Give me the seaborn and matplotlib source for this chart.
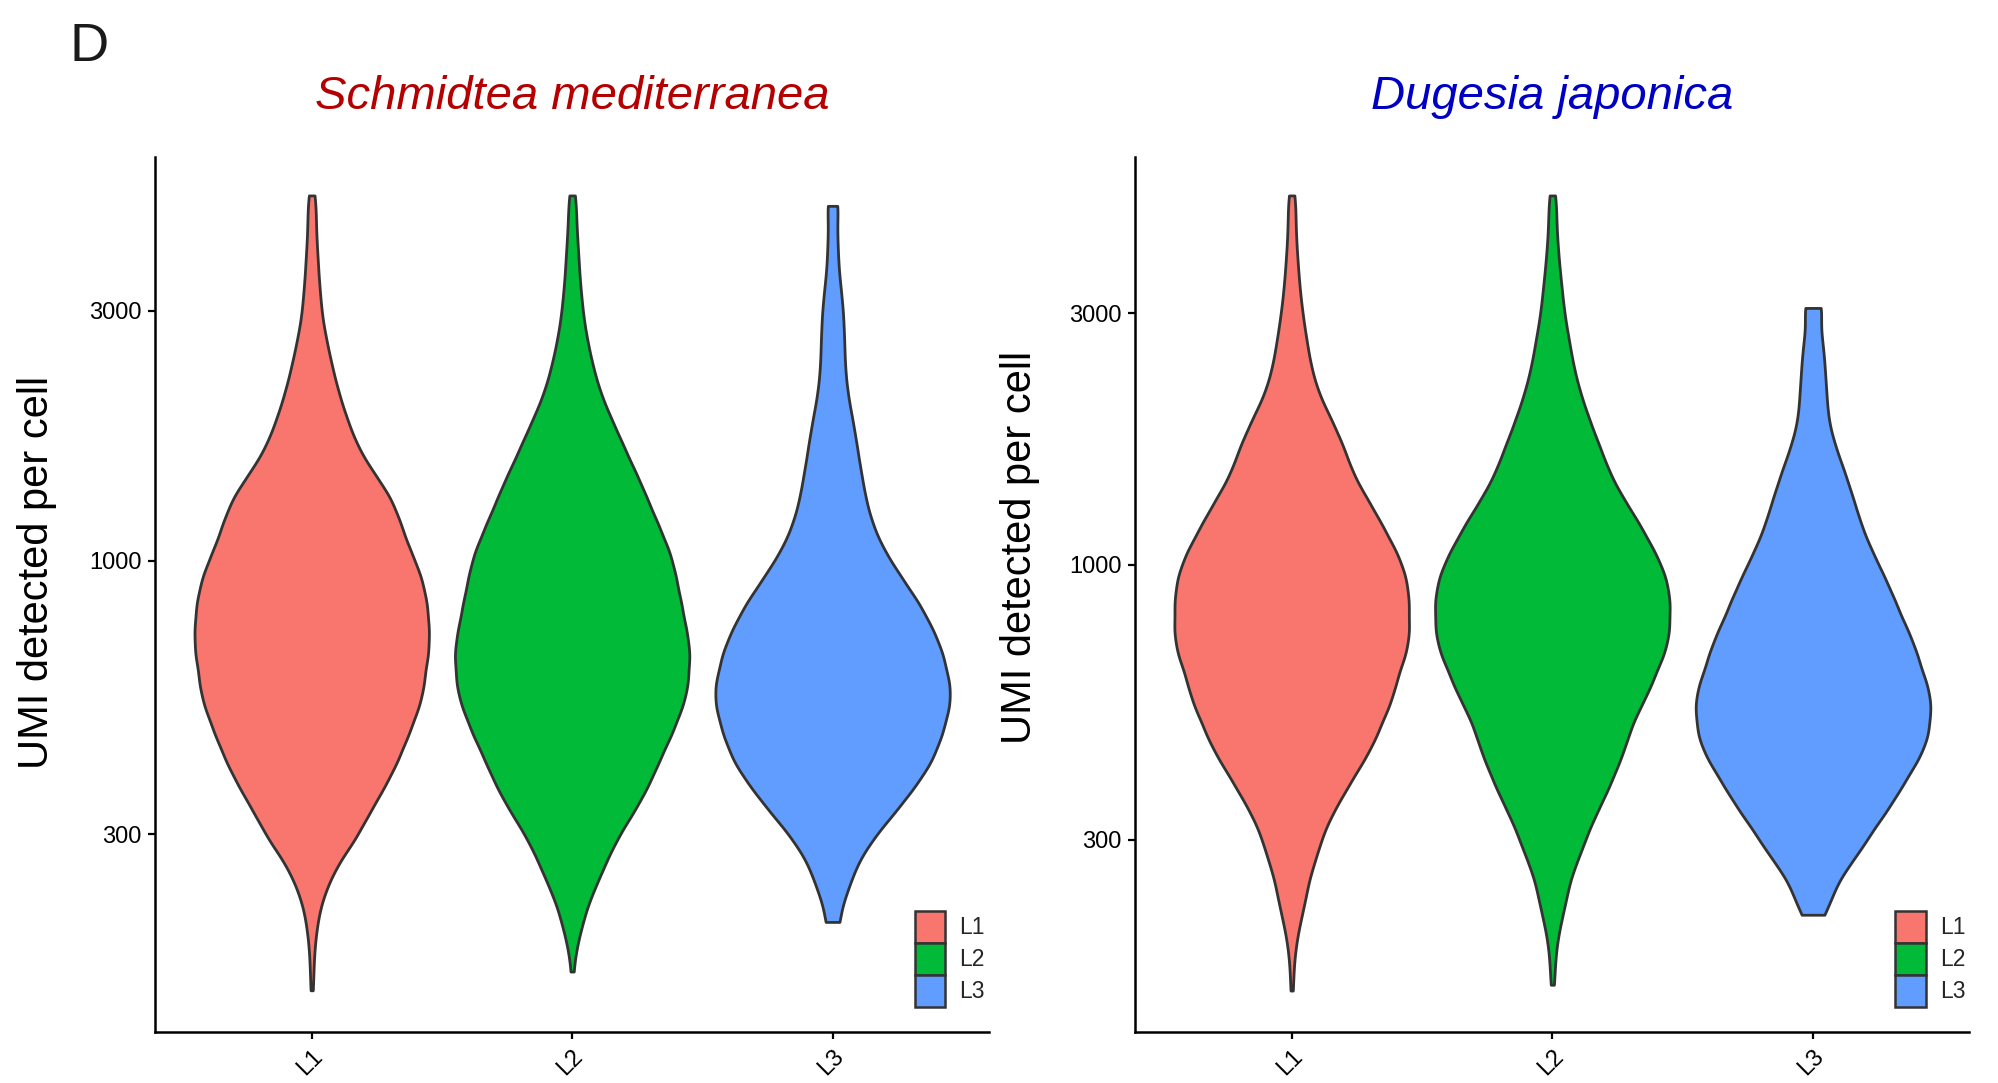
import numpy as np
import pandas as pd
import matplotlib
matplotlib.use("Agg")
import matplotlib.pyplot as plt
from matplotlib.patches import Patch
from matplotlib.ticker import NullLocator
import seaborn as sns

groups = ["L1", "L2", "L3"]
colors = ["#F8766D", "#00BA38", "#619CFF"]
ytick_values = [300, 1000, 3000]

# Schmidtea mediterranea: UMI levels and cells per level
smed_L1_umi = [4985, 4651, 4147, 3695, 3286, 2935, 2617, 2333, 2079, 1853, 1652, 1472, 1313, 1170, 1042, 929,
               828, 738, 658, 586, 523, 466, 415, 370, 330, 294, 262, 234, 208, 186, 166, 151]
smed_L1_n = [6, 11, 14, 19, 24, 30, 45, 62, 82, 107, 137, 185, 240, 270, 297, 330,
             347, 352, 351, 337, 320, 293, 260, 218, 173, 133, 75, 40, 19, 9, 5, 3]
smed_L2_umi = [4985, 4651, 4147, 3695, 3286, 2935, 2617, 2333, 2079, 1853, 1652, 1472, 1313, 1170, 1042, 929,
               828, 738, 658, 586, 523, 466, 415, 370, 330, 294, 262, 234, 208, 186, 164]
smed_L2_n = [6, 10, 15, 20, 25, 32, 45, 62, 84, 117, 152, 187, 220, 255, 288, 305,
             321, 335, 349, 341, 322, 295, 257, 222, 180, 132, 95, 62, 35, 15, 4]
smed_L3_umi = [4762, 4147, 3695, 3286, 2935, 2617, 2333, 2079, 1853, 1652, 1472, 1313, 1170, 1042,
               929, 828, 738, 658, 586, 523, 466, 415, 370, 330, 294, 262, 234, 204]
smed_L3_n = [20, 15, 17, 25, 32, 35, 37, 45, 60, 73, 85, 98, 120, 155,
             205, 260, 300, 333, 350, 348, 330, 300, 245, 185, 120, 70, 45, 25]

# Dugesia japonica
djap_L1_umi = [5029, 4694, 4187, 3735, 3331, 2971, 2650, 2363, 2108, 1880, 1676, 1495, 1333, 1189, 1060, 946,
               844, 752, 671, 598, 534, 476, 425, 379, 338, 301, 269, 239, 214, 191, 170, 155]
djap_L1_n = [6, 10, 13, 18, 24, 33, 45, 58, 80, 120, 155, 180, 225, 270, 312, 340,
             351, 352, 340, 310, 288, 255, 215, 168, 123, 88, 65, 45, 28, 13, 5, 3]
djap_L2_umi = [5029, 4694, 4187, 3735, 3331, 2971, 2650, 2363, 2108, 1880, 1676, 1495, 1333, 1189, 1060, 946,
               844, 752, 671, 598, 534, 476, 425, 379, 338, 301, 269, 239, 214, 191, 170, 159]
djap_L2_n = [6, 10, 14, 20, 28, 36, 50, 63, 83, 110, 140, 168, 210, 260, 302, 335,
             350, 348, 330, 295, 257, 225, 200, 169, 132, 98, 68, 45, 28, 13, 6, 3]
djap_L3_umi = [3074, 2650, 2363, 2108, 1880, 1676, 1495, 1333, 1189, 1060, 946, 844,
               752, 671, 598, 534, 476, 425, 379, 338, 301, 269, 239, 216]
djap_L3_n = [33, 30, 35, 40, 45, 66, 95, 120, 143, 175, 212, 248,
             282, 312, 337, 352, 345, 312, 265, 218, 162, 108, 60, 30]


def panel_frame(columns):
    parts = []
    for g, (umi, n) in zip(groups, columns):
        parts.append(pd.DataFrame({"group": g, "umi": np.repeat(umi, n)}))
    return pd.concat(parts, ignore_index=True)


# fixed kernel width in log10 units
def fixed_bw(kde):
    return 0.032 / kde.dataset.std()


def draw_panel(ax, df, title, title_color, ylim, label_xy):
    sns.violinplot(data=df, x="group", y="umi", hue="group", order=groups, hue_order=groups,
                   palette=colors, saturation=1, log_scale=True, cut=0, inner=None,
                   density_norm="width", width=0.9, gridsize=400, bw_method=fixed_bw,
                   linecolor="#333333", linewidth=2.0, legend=False, ax=ax)
    ax.set_ylim(*ylim)
    ax.set_xlim(-0.6, 2.6)
    ax.set_yticks(ytick_values)
    ax.set_yticklabels([str(v) for v in ytick_values])
    ax.yaxis.set_minor_locator(NullLocator())
    ax.set_xlabel("")
    ax.set_ylabel("UMI detected per cell", fontsize=30, color="black")
    ax.yaxis.set_label_coords(*label_xy)
    ax.set_title(title, fontsize=34, fontstyle="italic", color=title_color, pad=34)
    sns.despine(ax=ax)
    for s in ["left", "bottom"]:
        ax.spines[s].set_linewidth(1.8)
        ax.spines[s].set_color("black")
    ax.tick_params(length=5, width=1.6, labelsize=17, pad=5, color="black", labelcolor="black")
    plt.setp(ax.get_xticklabels(), rotation=45, ha="right", va="top", rotation_mode="anchor")
    handles = [Patch(facecolor=c, edgecolor="#333333", linewidth=1.8) for c in colors]
    ax.legend(handles, groups, loc="lower left", bbox_to_anchor=(0.911, 0.029), frameon=False,
              fontsize=16.5, handlelength=1.34, handleheight=1.77, labelspacing=0,
              handletextpad=0.6, borderpad=0, borderaxespad=0)


sns.set_style("ticks")
plt.rcParams["font.family"] = ["Liberation Sans", "DejaVu Sans"]

fig = plt.figure(figsize=(19.98, 10.83), dpi=100)
ax1 = fig.add_axes([0.0778, 0.0471, 0.4171, 0.8082])
ax2 = fig.add_axes([0.5682, 0.0471, 0.4175, 0.8082])

smed = panel_frame([(smed_L1_umi, smed_L1_n), (smed_L2_umi, smed_L2_n), (smed_L3_umi, smed_L3_n)])
djap = panel_frame([(djap_L1_umi, djap_L1_n), (djap_L2_umi, djap_L2_n), (djap_L3_umi, djap_L3_n)])

draw_panel(ax1, smed, "Schmidtea mediterranea", "#B40000", (125.7, 5911), (-0.1186, 0.5246))
draw_panel(ax2, djap, "Dugesia japonica", "#0000C4", (129.3, 5958), (-0.1142, 0.5538))

fig.text(70 / 1998, 1 - 61 / 1083, "D", fontsize=39, color="#1a1a1a", ha="left", va="baseline")

fig.savefig("out.png", dpi=100)
